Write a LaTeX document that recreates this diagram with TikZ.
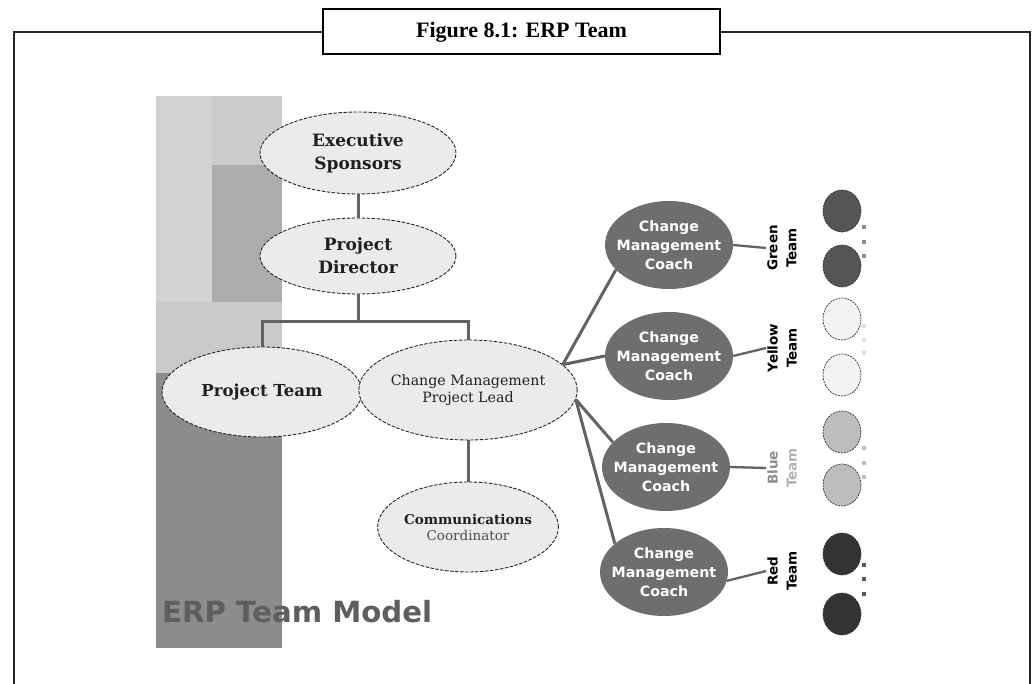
\documentclass[tikz,border=0pt]{standalone}
\usepackage{fontspec}
\setmainfont{DejaVu Serif}
\newfontfamily\titlefont{Liberation Serif}
\newfontfamily\sansfont{DejaVu Sans}
\usetikzlibrary{shapes.geometric}

\definecolor{linegray}{HTML}{626262}
\definecolor{bubblefill}{HTML}{EBEBEB}
\definecolor{coachfill}{HTML}{6E6E6E}
\definecolor{greenteam}{HTML}{555555}
\definecolor{yellowteam}{HTML}{F3F3F3}
\definecolor{blueteam}{HTML}{BDBDBD}
\definecolor{redteam}{HTML}{333333}
\definecolor{erpgray}{HTML}{5E5E5E}

\begin{document}
\begin{tikzpicture}[x=1pt, y=-1pt,
  frame/.style={line width=2.2pt, draw=black!85},
  bubble/.style={ellipse, draw=black!85, dash pattern=on 3.5pt off 1.5pt,
                 line width=0.9pt, fill=bubblefill, inner sep=0pt,
                 align=center, text=black!88},
  coach/.style={ellipse, fill=coachfill, minimum width=128, minimum height=88,
                inner sep=-12pt, align=center, text=white,
                font=\sansfont\bfseries\fontsize{14.2}{19}\selectfont},
  teamlbl/.style={rotate=90, align=center, inner sep=1pt,
                  font=\sansfont\bfseries\fontsize{13.5}{19}\selectfont},
  member/.style={ellipse, minimum width=38, minimum height=42, inner sep=0pt,
                 draw=black!80, dash pattern=on 2pt off 1pt, line width=0.7pt},
  dotmark/.style={minimum size=3.5pt, inner sep=0pt, fill=#1},
  link/.style={line width=3pt, draw=linegray}
]
\useasboundingbox (0,0) rectangle (1034,684);

% grey backdrop panel
\fill[gray!35] (156,96) rectangle (212,302);
\fill[gray!40] (212,96) rectangle (282,165);
\fill[gray!65] (212,165) rectangle (282,302);
\fill[gray!42] (156,302) rectangle (282,373);
\fill[black!45] (156,373) rectangle (282,648);

% caption and frame
\node[draw, line width=2pt, minimum width=397, minimum height=45,
      font=\titlefont\bfseries\fontsize{22}{24}\selectfont] (title) at (521.5,32) {Figure 8.1: ERP Team};
\coordinate (tl) at (14,32);
\coordinate (bl) at (14,690);
\coordinate (tr) at (1030,32);
\coordinate (br) at (1030,690);
\draw[frame] (title.west) -- (tl) -- (bl);
\draw[frame] (title.east) -- (tr) -- (br);

% left hierarchy
\node[bubble, minimum width=196, minimum height=82,
      font=\bfseries\fontsize{17}{23}\selectfont] (exec) at (358,153) {Executive\\Sponsors};
\node[bubble, minimum width=196, minimum height=76,
      font=\bfseries\fontsize{17}{23}\selectfont] (pd) at (358,256) {Project\\Director};
\node[bubble, minimum width=200, minimum height=90,
      font=\bfseries\fontsize{16.5}{23}\selectfont] (pt) at (262,392) {Project Team};
\node[bubble, minimum width=192, minimum height=100,
      font=\fontsize{14.2}{17}\selectfont] (cmpl) at (468,390) {Change Management\\Project Lead};
\node[bubble, minimum width=148, minimum height=90,
      font=\fontsize{13.5}{16}\selectfont] (cc) at (468,527) {\textbf{Communications}\\\textcolor{black!70}{Coordinator}};
\coordinate (bar) at (358,322);

\draw[link] (exec) -- (pd);
\draw[link] (pd.south) -- (bar);
\draw[link] (pt.north) |- (bar) -| (cmpl.north);
\draw[link] (cmpl) -- (cc);

% coaches
\node[coach] (c1) at (669,245) {Change\\Management\\Coach};
\node[coach] (c2) at (669,356) {Change\\Management\\Coach};
\node[coach] (c3) at (666,467) {Change\\Management\\Coach};
\node[coach] (c4) at (664,572) {Change\\Management\\Coach};

\draw[link] (cmpl.15) -- (c1.205);
\draw[link] (cmpl.15) -- (c2.west);
\draw[link] (cmpl.-5) -- (c3.155);
\draw[link] (cmpl.-5) -- (c4.150);

% team labels
\node[teamlbl] (glbl) at (782,248) {Green\\Team};
\node[teamlbl] (ylbl) at (782,348) {Yellow\\Team};
\node[teamlbl] (blbl) at (782,468) {\textcolor{black!45}{Blue}\\\textcolor{black!30}{Team}};
\node[teamlbl] (rlbl) at (782,571) {Red\\Team};

\draw[link, line width=2.3pt] (c1.east) -- (glbl.north);
\draw[link, line width=2.3pt] (c2.east) -- (ylbl.north);
\draw[link, line width=2.3pt] (c3.east) -- (blbl.north);
\draw[link, line width=2.3pt] (c4.-8) -- (rlbl.north);

% team members
\node[member, fill=greenteam] (g1) at (842,211) {};
\node[member, fill=greenteam] (g2) at (842,266) {};
\node[member, fill=yellowteam] (y1) at (842,319) {};
\node[member, fill=yellowteam] (y2) at (842,375) {};
\node[member, fill=blueteam] (b1) at (842,432) {};
\node[member, fill=blueteam] (b2) at (842,485) {};
\node[member, fill=redteam, draw=redteam] (r1) at (842,554) {};
\node[member, fill=redteam, draw=redteam] (r2) at (842,614) {};

\node[dotmark=black!45] (gd1) at (864,227) {};
\node[dotmark=black!45] (gd2) at (864,242) {};
\node[dotmark=black!45] (gd3) at (864,256) {};
\node[dotmark=black!12] (yd1) at (864,326) {};
\node[dotmark=black!12] (yd2) at (864,340) {};
\node[dotmark=black!12] (yd3) at (864,353) {};
\node[dotmark=black!25] (bd1) at (864,448) {};
\node[dotmark=black!25] (bd2) at (864,463) {};
\node[dotmark=black!25] (bd3) at (864,477) {};
\node[dotmark=black!65] (rd1) at (864,565) {};
\node[dotmark=black!65] (rd2) at (864,579) {};
\node[dotmark=black!65] (rd3) at (864,594) {};

% model caption
\node[anchor=base west, inner sep=0pt, text=erpgray,
      font=\sansfont\bfseries\fontsize{29.2}{30}\selectfont] (model) at (162,622) {ERP Team Model};
\end{tikzpicture}
\end{document}
